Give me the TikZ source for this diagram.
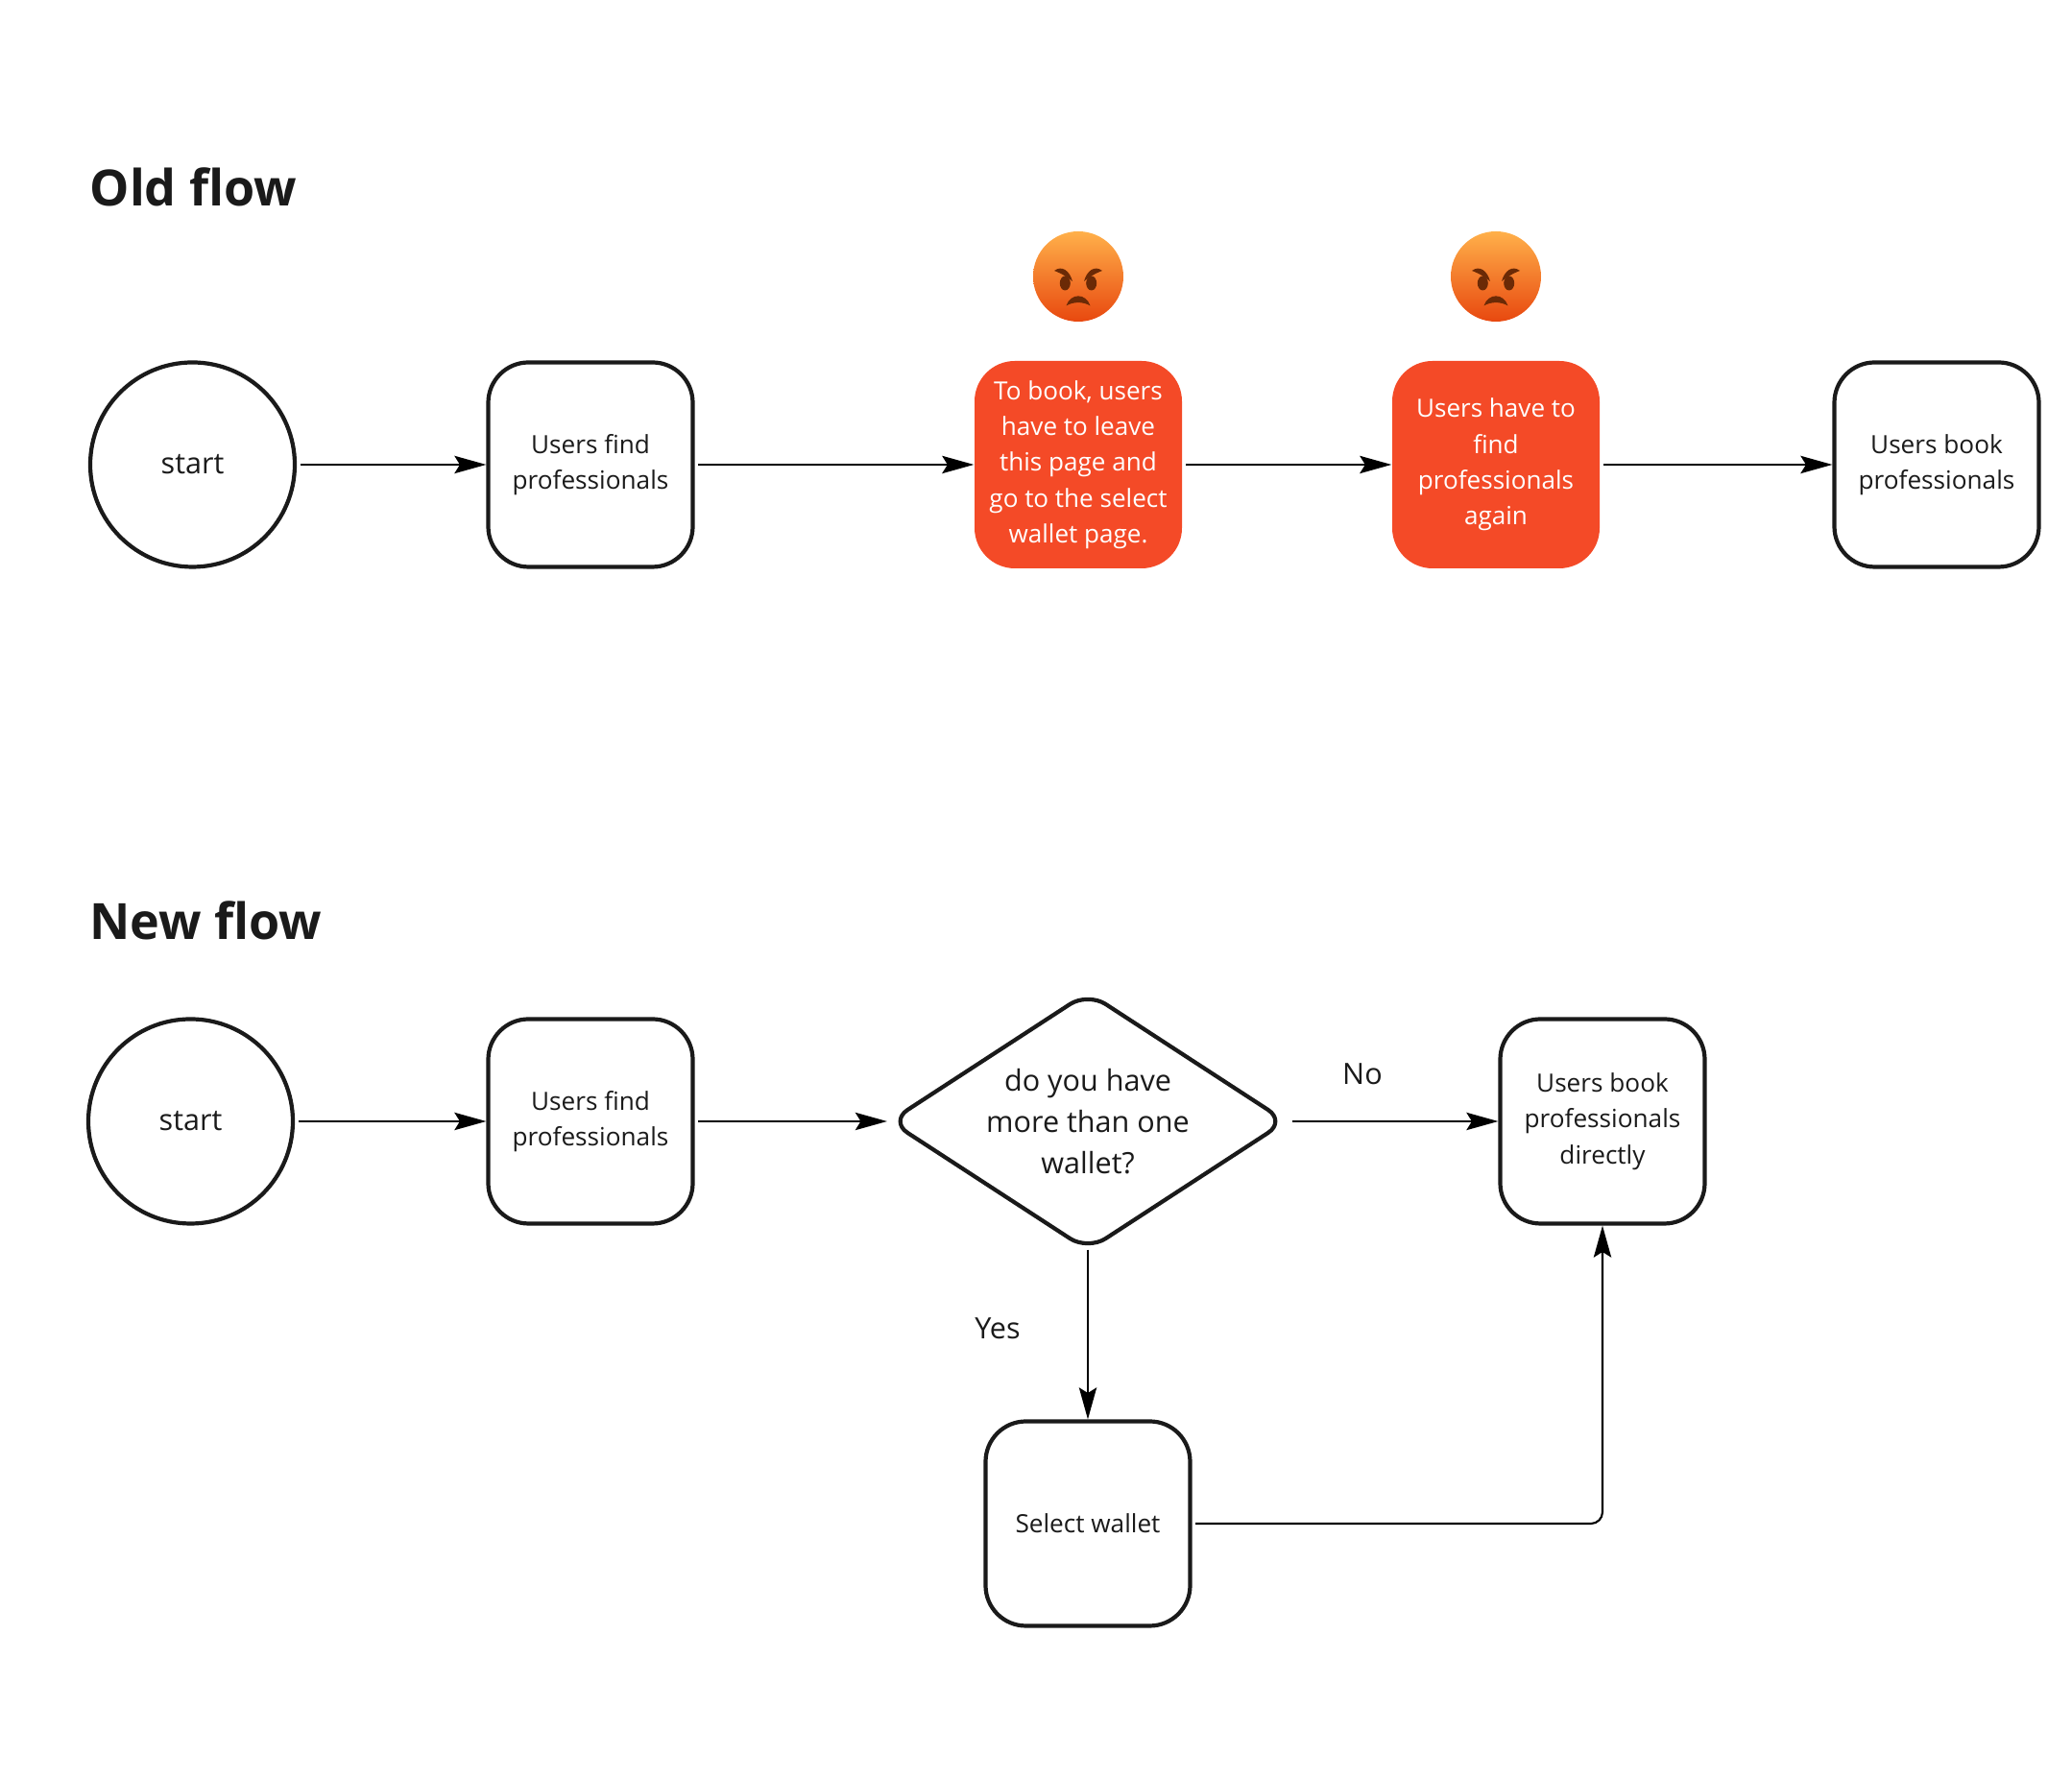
\documentclass[tikz,border=0pt]{standalone}
\usepackage{fontspec}
\setmainfont{Open Sans}
\usepackage{xcolor}
\usetikzlibrary{arrows.meta,shapes.geometric}

\definecolor{inkdark}{HTML}{1A1A1A}
\definecolor{alertred}{HTML}{F44A27}
\definecolor{faceTop}{HTML}{FFB04A}
\definecolor{faceMid}{HTML}{FB7A1C}
\definecolor{faceBottom}{HTML}{E8480F}
\definecolor{faceMark}{HTML}{6B2A06}

\tikzset{
  title/.style={anchor=base west,inner sep=0pt,text=inkdark,font=\fontsize{14.8}{18}\selectfont\bfseries},
  startnode/.style={circle,draw=inkdark,line width=1.2pt,minimum size=2.13cm,inner sep=0pt,text=inkdark,font=\fontsize{8.7}{12}\selectfont},
  stepbox/.style={rectangle,rounded corners=0.42cm,draw=inkdark,line width=1.2pt,minimum size=2.13cm,inner sep=0pt,align=center,text=inkdark,font=\fontsize{7.45}{10.6}\selectfont},
  alertbox/.style={rectangle,rounded corners=0.42cm,fill=alertred,minimum size=2.16cm,inner sep=0pt,align=center,text=white,font=\fontsize{7.42}{10.6}\selectfont},
  decision/.style={diamond,shape aspect=1.5,rounded corners=0.22cm,draw=inkdark,line width=1.2pt,minimum width=4.14cm,minimum height=2.7cm,inner sep=0pt,align=center,text=inkdark,font=\fontsize{8.7}{12.2}\selectfont},
  answer/.style={inner sep=0pt,text=inkdark,font=\fontsize{8.7}{12}\selectfont},
  flow/.style={-{Stealth[length=9.4pt,width=5.2pt,inset=1.6pt]},line width=0.6pt,black,shorten <=1pt},
  facemark/.style={faceMark,line width=0.3pt},
}

\begin{document}
\begin{tikzpicture}
\useasboundingbox (0,0) rectangle (21.58,18.53);
% Titles
\node[title] (oldtitle) at (0.93,16.38) {Old flow};
\node[title] (newtitle) at (0.93,8.74) {New flow};
% Old flow
\node[startnode] (oldstart) at (2.005,13.69) {start};
\node[stepbox] (oldfind) at (6.15,13.69) {Users find\\professionals};
\node[alertbox] (leave) at (11.23,13.69) {To book, users\\have to leave\\this page and\\go to the select\\wallet page.};
\node[alertbox] (again) at (15.58,13.69) {Users have to\\find\\professionals\\again};
\node[stepbox] (oldbook) at (20.17,13.69) {Users book\\professionals};
\draw[flow] (oldstart) -- (oldfind);
\draw[flow] (oldfind) -- (leave);
\draw[flow] (leave) -- (again);
\draw[flow] (again) -- (oldbook);
% Angry faces
\foreach \name/\facex in {faceone/11.23,facetwo/15.58} {
  \node[circle,minimum size=0.94cm,inner sep=0pt,top color=faceTop,middle color=faceMid,bottom color=faceBottom] (\name) at (\facex,15.65) {};
  \foreach \side in {-1,1} {
    \begin{scope}[shift={(\name.center)},xscale=\side]
      \fill[facemark] (-0.137,-0.07) ellipse (0.055 and 0.075);
      \fill[facemark] (-0.25,0.06) .. controls (-0.17,0.12) and (-0.09,0.06) .. (-0.06,-0.05) .. controls (-0.11,-0.01) and (-0.17,0.03) .. (-0.25,0.06);
    \end{scope}
  }
  \fill[facemark,shift={(\name.center)}] (-0.125,-0.305) .. controls (-0.08,-0.17) and (0.08,-0.17) .. (0.125,-0.305) .. controls (0.05,-0.26) and (-0.05,-0.26) .. (-0.125,-0.305);
}
% New flow
\node[startnode] (newstart) at (1.985,6.85) {start};
\node[stepbox] (newfind) at (6.15,6.85) {Users find\\professionals};
\node[decision] (wallets) at (11.33,6.85) {do you have\\more than one\\wallet?};
\node[stepbox] (direct) at (16.69,6.85) {Users book\\professionals\\directly};
\node[stepbox] (select) at (11.33,2.66) {Select wallet};
\draw[flow] (newstart) -- (newfind);
\draw[flow] (newfind) -- (wallets);
\draw[flow] (wallets) -- (direct);
\draw[flow,shorten <=-1pt] (wallets) -- (select);
\draw[flow,rounded corners=0.12cm] (select.east) -| (direct.south);
% Answers
\node[answer] (no) at (14.19,7.34) {No};
\node[answer] (yes) at (10.39,4.69) {Yes};
\end{tikzpicture}
\end{document}
